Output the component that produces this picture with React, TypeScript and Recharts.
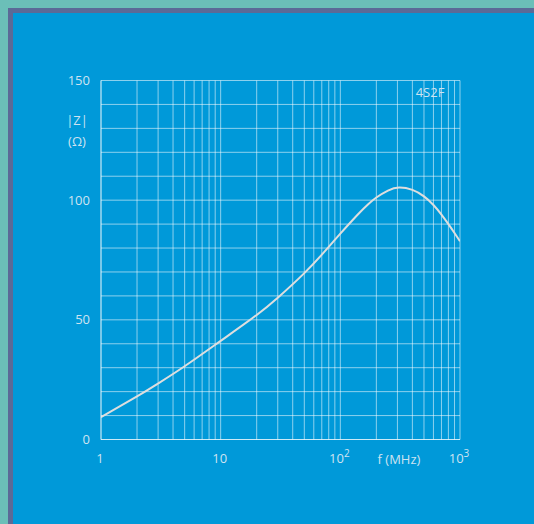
import React from "react";
import { LineChart, Line, XAxis, YAxis, CartesianGrid, Customized } from "recharts";

const freqMHz = [1, 2, 3, 5, 10, 20, 30, 50, 75, 100, 140, 170, 200, 250, 310, 400, 500, 600, 700, 800, 900, 1000];
const impedance = [9.3, 18, 23.4, 30.6, 41.2, 52, 59.2, 69.5, 78.9, 86, 94, 98.2, 101.1, 104, 105.3, 104.3, 101.6, 98, 94, 90, 86.3, 82.8];

const xGridTicks = [1, 2, 3, 4, 5, 6, 7, 8, 9, 10, 20, 30, 40, 50, 60, 70, 80, 90, 100, 200, 300, 400, 500, 600, 700, 800, 900, 1000];
const xLabelTicks = [1, 10, 100, 1000];
const yGridTicks = [0, 10, 20, 30, 40, 50, 60, 70, 80, 90, 100, 110, 120, 130, 140, 150];
const yLabelTicks = [0, 50, 100, 150];

const data = freqMHz.map((f, i) => ({ f, z: impedance[i] }));

const TEXT = "#CFE3F1";
const GRID = "rgba(255,255,255,0.55)";
const FONT = "'Open Sans', sans-serif";

const XTick = (props: any) => {
  const { x, y, payload } = props;
  const v = payload.value;
  if (!xLabelTicks.includes(v)) return <g />;
  const exp = Math.round(Math.log10(v));
  return (
    <text x={x - 1} y={y + 21} textAnchor="middle" fill={TEXT} fontSize={13} fontFamily={FONT}>
      {exp === 0 ? "1" : exp === 1 ? "10" : (
        <>
          10<tspan dy={-6} fontSize={10}>{exp}</tspan>
        </>
      )}
    </text>
  );
};

const YTick = (props: any) => {
  const { x, y, payload } = props;
  const v = payload.value;
  if (!yLabelTicks.includes(v)) return <g />;
  return (
    <text x={x - 9} y={y} dy={4.5} textAnchor="end" fill={TEXT} fontSize={13} fontFamily={FONT}>
      {v}
    </text>
  );
};

const Labels = () => (
  <g fontFamily={FONT} fontSize={13} fill={TEXT}>
    <text x={77} y={124.5} textAnchor="middle">|Z|</text>
    <text x={77} y={145.5} textAnchor="middle">(Ω)</text>
    <text x={399} y={463.5} textAnchor="middle">f (MHz)</text>
    <text x={430} y={97} textAnchor="middle">4S2F</text>
  </g>
);

export default function App() {
  return (
    <div style={{ position: "absolute", left: 0, top: 0, width: 534, height: 524, background: "#6BBFB8", overflow: "hidden" }}>
      <div style={{ position: "absolute", left: 8, top: 8, width: 526, height: 516, background: "#5B6A97" }} />
      <div style={{ position: "absolute", left: 13, top: 13, width: 521, height: 511, background: "#0099D9" }} />
      <div style={{ position: "absolute", left: 0, top: 0 }}>
        <LineChart width={534} height={524} data={data} margin={{ top: 80.5, right: 74, bottom: 54.5, left: 41 }}>
          <CartesianGrid stroke={GRID} strokeWidth={1} />
          <XAxis
            dataKey="f"
            type="number"
            scale="log"
            domain={[1, 1000]}
            ticks={xGridTicks}
            interval={0}
            allowDataOverflow
            height={30}
            tickLine={false}
            tickSize={0}
            axisLine={{ stroke: GRID }}
            tick={<XTick />}
          />
          <YAxis
            type="number"
            domain={[0, 150]}
            ticks={yGridTicks}
            interval={0}
            width={60}
            tickLine={false}
            tickSize={0}
            axisLine={{ stroke: GRID }}
            tick={<YTick />}
          />
          <Line type="natural" dataKey="z" stroke="#DEDEDE" strokeWidth={2} dot={false} isAnimationActive={false} />
          <Customized component={<Labels />} />
        </LineChart>
      </div>
    </div>
  );
}
